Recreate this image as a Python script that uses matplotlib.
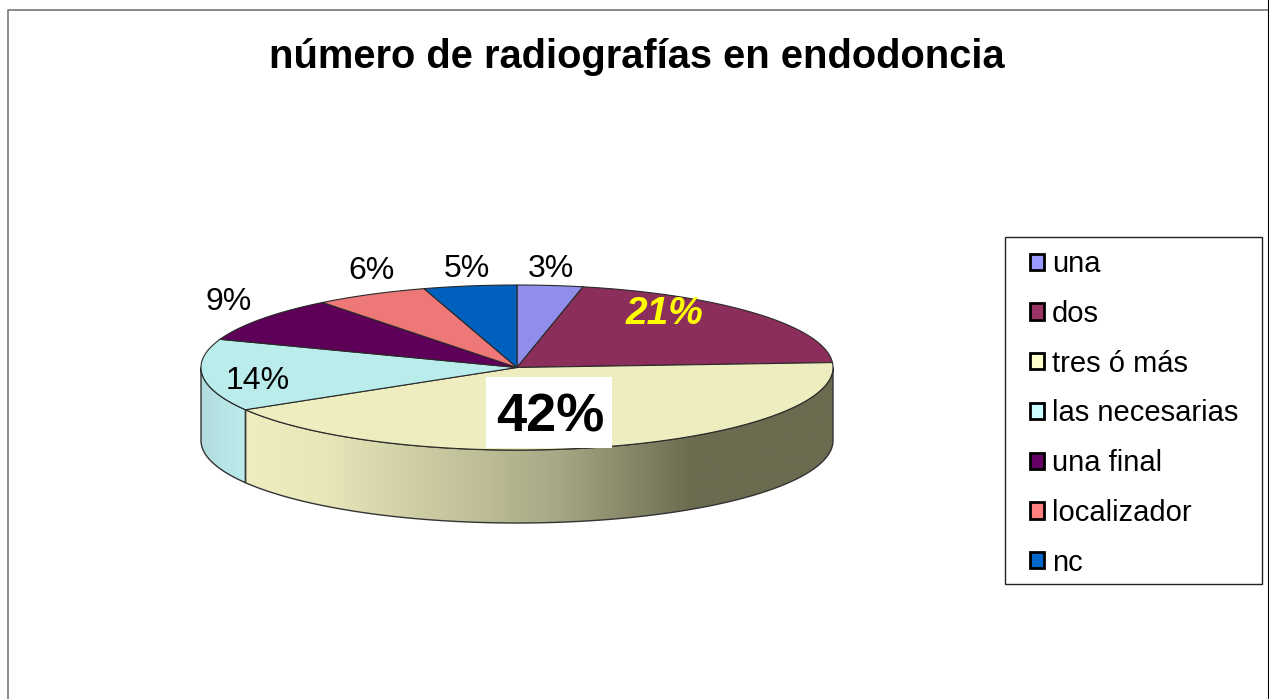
import numpy as np
import matplotlib
matplotlib.use("Agg")
import matplotlib.pyplot as plt
from matplotlib.colors import LinearSegmentedColormap
from matplotlib.patches import Patch, Polygon, Rectangle

plt.rcParams['font.family'] = ['Liberation Sans', 'DejaVu Sans']

title = "número de radiografías en endodoncia"
categories = ["una", "dos", "tres ó más", "las necesarias", "una final", "localizador", "nc"]
shares = [3.35, 20.7, 42.4, 14.1, 8.9, 5.8, 4.75]
top_colors = ["#8F8FEB", "#8B2E5B", "#EDEDC0", "#BBECEC", "#5E0058", "#EE7777", "#0060BE"]
legend_colors = ["#9999FF", "#993366", "#FFFFCC", "#CCFFFF", "#660066", "#FF8080", "#0066CC"]

# label centres, in pixels of the picture
label_x = [551, 665, 550, 258, 229, 371, 467]
label_y = [269, 314, 417, 381, 302, 271, 269]

cx, cy, rx, ry, depth = 517, 367.5, 316, 82.5, 73

fig = plt.figure(figsize=(12.69, 6.99), dpi=100)
ax = fig.add_axes([0, 0, 1, 1])


def rim(t0, t1):
    t = np.radians(np.linspace(t0, t1, 200))
    return np.column_stack([cx + rx * np.sin(t), cy - ry * np.cos(t)])


edges = np.cumsum([0] + shares) / sum(shares) * 360

# side walls, only the front half of the disc shows
wall_cmaps = {
    2: LinearSegmentedColormap.from_list("w2", [(0, "#EDEDC0"), (0.13, "#E8E7BA"), (0.53, "#A8A885"), (0.76, "#6B6B50"), (1, "#6B6B50")]),
    3: LinearSegmentedColormap.from_list("w3", ["#B2DCDF", "#BBECEC"]),
}
for i, cmap in wall_cmaps.items():
    t0, t1 = max(edges[i], 90), min(edges[i + 1], 270)
    upper = rim(t0, t1)
    lower = upper[::-1] + [0, depth]
    wall = Polygon(np.vstack([upper, lower]), closed=True, fc="none", ec="#333333", lw=1, zorder=3)
    ax.add_patch(wall)
    x0, x1 = upper[:, 0].min(), upper[:, 0].max()
    img = ax.imshow(np.linspace(0, 1, 256)[None, :], cmap=cmap, aspect="auto", zorder=2,
                    extent=[x0, x1, cy + ry + depth + 2, cy - ry])
    img.set_clip_path(wall)

# top of the disc
for i, color in enumerate(top_colors):
    pts = np.vstack([[cx, cy], rim(edges[i], edges[i + 1])])
    ax.add_patch(Polygon(pts, closed=True, fc=color, ec="#2A2A2A", lw=0.8, zorder=4))

# value labels
for i, share in enumerate(shares):
    txt = "%d%%" % round(share)
    if i == 2:
        ax.text(label_x[i], label_y[i], txt, fontsize=39, fontweight="bold", ha="center", va="center", zorder=6)
        ax.add_patch(Rectangle((486, 377), 126, 71, fc="white", ec="none", zorder=5))
    elif i == 1:
        ax.text(label_x[i], label_y[i], txt, fontsize=28, fontweight="bold", style="italic", color="#FFFF00",
                ha="center", va="center", zorder=6)
    else:
        ax.text(label_x[i], label_y[i], txt, fontsize=23, ha="center", va="center", zorder=6)

ax.text(637, 57, title, fontsize=28.7, fontweight="bold", ha="center", va="center")

# legend
ax.add_patch(Rectangle((1005, 237), 257, 347, fc="white", ec="#222222", lw=1, zorder=1))
handles = [Patch(fc=c, ec="black", lw=2) for c in legend_colors]
leg = ax.legend(handles, categories, loc="upper left", bbox_to_anchor=(1030 / 1269, 1 - 250 / 699),
                frameon=False, fontsize=21, borderpad=0, borderaxespad=0, handlelength=0.48,
                handleheight=0.48, handletextpad=0.27, labelspacing=0.747)

# chart frame
ax.plot([8, 8, 1269], [699, 10, 10], color="#777777", lw=1.2, zorder=1)
ax.plot([1268.5, 1268.5], [0, 699], color="black", lw=1.5, zorder=1)

ax.set_xlim(0, 1269)
ax.set_ylim(699, 0)
ax.axis("off")
fig.savefig("out.png", dpi=100)
